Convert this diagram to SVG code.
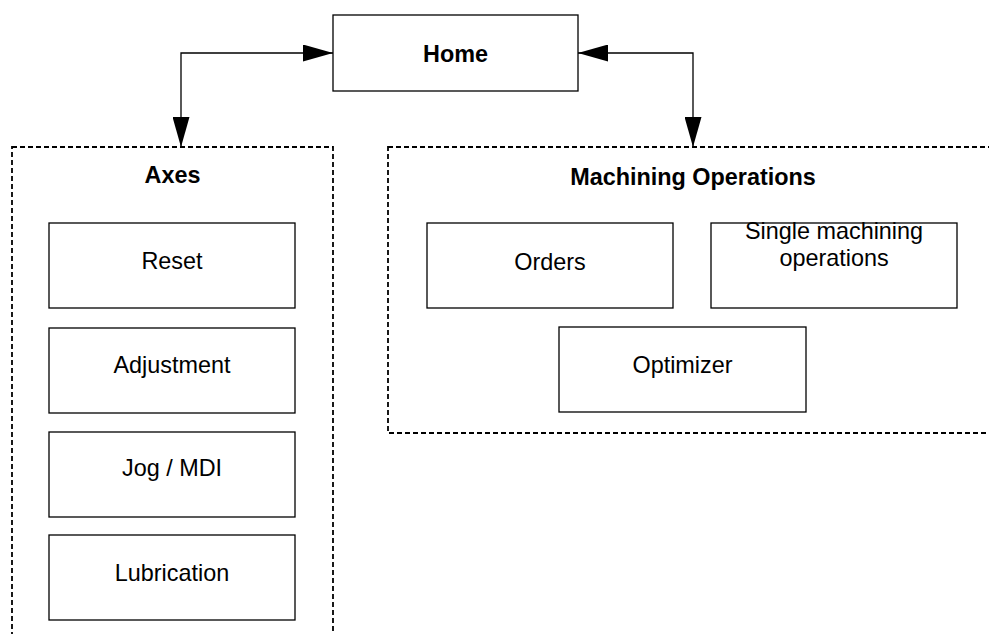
<svg xmlns="http://www.w3.org/2000/svg" width="989" height="634" viewBox="0 0 989 634">
<style>
.box{fill:#fff;stroke:#000;stroke-width:1.3}
.grp{fill:none;stroke:#000;stroke-width:1.8;stroke-dasharray:5 3}
.t{font-family:"Liberation Sans",Arial,sans-serif;font-size:23.4px;fill:#000;text-anchor:middle}
.b{font-weight:bold}
.conn{fill:none;stroke:#000;stroke-width:1.3}
</style>
<defs>
<marker id="ah" markerUnits="userSpaceOnUse" markerWidth="30" markerHeight="17" refX="30" refY="8.5" orient="auto-start-reverse">
<path d="M0,0 L30,8.5 L0,17 z" fill="#000"/>
</marker>
</defs>
<rect width="989" height="634" fill="#fff"/>
<g id="axes-group">
<rect class="grp" x="12" y="147" width="321" height="520"/>
<text class="t b" x="172.5" y="183">Axes</text>
</g>
<g id="machining-group">
<rect class="grp" x="388" y="147" width="640" height="286"/>
<text class="t b" x="693" y="185">Machining Operations</text>
</g>
<g id="home">
<rect class="box" x="333" y="15" width="245" height="76"/>
<text class="t b" x="455.5" y="62">Home</text>
</g>
<g id="reset">
<rect class="box" x="49" y="223" width="246" height="85"/>
<text class="t" x="172" y="269">Reset</text>
</g>
<g id="adjustment">
<rect class="box" x="49" y="328" width="246" height="85"/>
<text class="t" x="172" y="373">Adjustment</text>
</g>
<g id="jog-mdi">
<rect class="box" x="49" y="432" width="246" height="85"/>
<text class="t" x="172" y="476">Jog / MDI</text>
</g>
<g id="lubrication">
<rect class="box" x="49" y="535" width="246" height="85"/>
<text class="t" x="172" y="581">Lubrication</text>
</g>
<g id="orders">
<rect class="box" x="427" y="223" width="246" height="85"/>
<text class="t" x="550" y="270">Orders</text>
</g>
<g id="single-machining">
<rect class="box" x="711" y="223" width="246" height="85"/>
<text class="t" x="834" y="239">Single machining</text>
<text class="t" x="834" y="266">operations</text>
</g>
<g id="optimizer">
<rect class="box" x="559" y="327" width="247" height="85"/>
<text class="t" x="682.5" y="373">Optimizer</text>
</g>
<g id="connectors">
<path class="conn" d="M333,53 L181,53 L181,147" marker-start="url(#ah)" marker-end="url(#ah)"/>
<path class="conn" d="M578,53 L693,53 L693,147" marker-start="url(#ah)" marker-end="url(#ah)"/>
</g>
</svg>
